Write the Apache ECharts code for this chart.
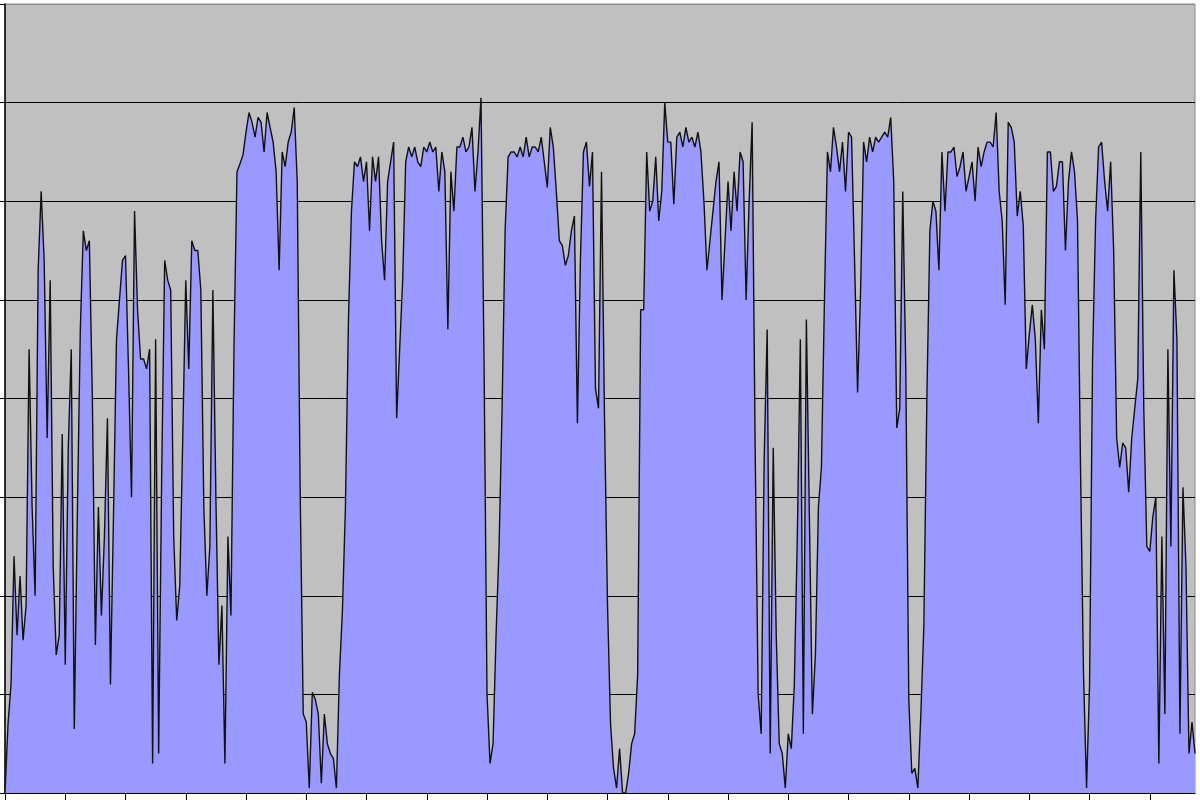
<!DOCTYPE html>
<html>
<head>
<meta charset="utf-8">
<title>Area chart</title>
<script src="https://cdn.jsdelivr.net/npm/echarts@6/dist/echarts.min.js"></script>
<style>
  html, body { margin: 0; padding: 0; background: #fff; }
  #chart { width: 1200px; height: 800px; }
</style>
</head>
<body>
<div id="chart"></div>
<script>
// samples, 20 per x tick
var s000 = [0.0, 0.7, 1.1, 2.4, 1.6, 2.2, 1.55, 1.9, 4.5, 2.9, 2.0, 5.3, 6.1, 5.4, 3.6, 5.2, 2.3, 1.4, 1.6, 3.64];
var s020 = [1.3, 3.5, 4.5, 0.65, 2.8, 4.7, 5.7, 5.5, 5.6, 4.0, 1.5, 2.9, 1.8, 2.6, 3.8, 1.1, 2.8, 4.6, 5.0, 5.4];
var s040 = [5.45, 4.3, 3.0, 5.9, 4.9, 4.4, 4.4, 4.3, 4.5, 0.3, 4.6, 0.4, 3.2, 5.4, 5.2, 5.1, 2.6, 1.75, 2.1, 3.6];
var s060 = [5.2, 4.3, 5.6, 5.5, 5.5, 5.1, 2.9, 2.0, 2.5, 5.1, 3.0, 1.3, 1.9, 0.3, 2.6, 1.8, 4.5, 6.3, 6.38, 6.47];
var s080 = [6.7, 6.9, 6.8, 6.65, 6.85, 6.8, 6.5, 6.9, 6.75, 6.6, 6.3, 5.3, 6.5, 6.35, 6.6, 6.7, 6.95, 6.2, 3.0, 0.8];
var s100 = [0.72, 0.05, 1.02, 0.95, 0.8, 0.1, 0.8, 0.5, 0.4, 0.35, 0.05, 1.2, 1.85, 2.9, 4.8, 5.9, 6.4, 6.35, 6.45, 6.2];
var s120 = [6.4, 5.7, 6.45, 6.2, 6.45, 5.6, 5.2, 6.2, 6.4, 6.6, 3.8, 4.5, 5.2, 6.4, 6.55, 6.45, 6.55, 6.4, 6.35, 6.55];
var s140 = [6.5, 6.6, 6.5, 6.55, 6.1, 6.5, 6.3, 4.7, 6.3, 5.9, 6.55, 6.55, 6.65, 6.5, 6.55, 6.75, 6.1, 6.5, 7.05, 4.4];
var s160 = [1.0, 0.3, 0.5, 1.6, 2.5, 3.9, 5.7, 6.45, 6.5, 6.5, 6.45, 6.55, 6.45, 6.65, 6.45, 6.55, 6.55, 6.5, 6.65, 6.4];
var s180 = [6.14, 6.75, 6.55, 6.1, 5.6, 5.55, 5.35, 5.45, 5.7, 5.85, 3.75, 5.4, 6.5, 6.6, 6.15, 6.5, 4.1, 3.9, 6.3, 3.8];
var s200 = [1.9, 0.7, 0.25, 0.05, 0.45, 0.0, 0.0, 0.2, 0.5, 0.6, 1.2, 4.9, 4.9, 6.5, 5.9, 6.0, 6.45, 5.8, 6.1, 7.0];
var s220 = [6.6, 6.6, 5.97, 6.65, 6.7, 6.55, 6.75, 6.6, 6.65, 6.55, 6.7, 6.5, 6.0, 5.3, 5.6, 5.9, 6.2, 6.4, 5.0, 5.6];
var s240 = [6.2, 5.7, 6.3, 5.9, 6.5, 6.4, 5.0, 6.0, 6.8, 3.5, 1.0, 0.6, 3.4, 4.7, 0.4, 3.5, 1.6, 0.5, 0.4, 0.05];
var s260 = [0.6, 0.45, 1.1, 2.6, 4.6, 0.6, 4.8, 2.8, 0.8, 1.4, 2.9, 3.3, 5.0, 6.5, 6.3, 6.75, 6.55, 6.3, 6.6, 6.1];
var s280 = [6.7, 6.65, 5.4, 4.06, 5.1, 6.6, 6.4, 6.65, 6.5, 6.65, 6.6, 6.65, 6.7, 6.65, 6.85, 6.2, 3.7, 3.9, 6.1, 4.3];
var s300 = [0.95, 0.2, 0.25, 0.05, 0.8, 1.7, 4.0, 5.7, 6.0, 5.9, 5.3, 6.5, 5.9, 6.5, 6.5, 6.55, 6.25, 6.35, 6.5, 6.1];
var s320 = [6.25, 6.4, 6.0, 6.55, 6.35, 6.5, 6.6, 6.6, 6.55, 6.9, 6.1, 5.8, 4.95, 6.8, 6.75, 6.6, 5.85, 6.1, 5.75, 4.3];
var s340 = [4.65, 4.95, 4.6, 3.75, 4.9, 4.5, 6.5, 6.5, 6.1, 6.15, 6.4, 6.4, 5.5, 6.2, 6.5, 6.3, 5.8, 3.3, 1.2, 0.05];
var s360 = [1.1, 4.4, 5.8, 6.55, 6.6, 6.2, 5.9, 6.4, 5.5, 3.6, 3.3, 3.55, 3.5, 3.05, 3.6, 3.9, 4.2, 6.5, 3.9, 2.5];
var s380 = [2.45, 2.8, 3.0, 0.3, 2.6, 0.8, 4.5, 2.5, 5.3, 4.6, 0.6, 3.1, 2.3, 0.4, 0.72, 0.4];

var values = [].concat(s000, s020, s040, s060, s080, s100, s120, s140, s160, s180,
  s200, s220, s240, s260, s280, s300, s320, s340, s360, s380);

// sample numbers on the category axis
var categories = values.map(function(v, i) { return String(i + 1); });

var yMin = 0;
var yMax = 8;
var yStep = 1;

var chart = echarts.init(document.getElementById("chart"));

var option = {
  animation: false,
  backgroundColor: "#ffffff",
  grid: {
    left: 5,
    right: 5,
    top: 4,
    bottom: 7,
    show: true,
    backgroundColor: "#c0c0c0",
    borderColor: "#8c8c8c",
    borderWidth: 1
  },
  xAxis: {
    type: "category",
    data: categories,
    boundaryGap: false,
    axisLine: { show: true, lineStyle: { color: "#000", width: 1 } },
    axisTick: {
      show: true,
      inside: false,
      length: 7,
      interval: function(index) { return index % 20 === 0; },
      lineStyle: { color: "#000", width: 1 }
    },
    axisLabel: { show: false },
    splitLine: { show: false }
  },
  yAxis: {
    type: "value",
    min: yMin,
    max: yMax,
    interval: yStep,
    axisLine: { show: true, lineStyle: { color: "#000", width: 1.5 } },
    axisTick: { show: true, inside: false, length: 5, lineStyle: { color: "#000" } },
    axisLabel: { show: false },
    splitLine: {
      show: true,
      lineStyle: {
        color: ["#000", "#000", "#000", "#000", "#000", "#000", "#000", "#000", "#8c8c8c"],
        width: 1
      }
    }
  },
  series: [
    {
      type: "line",
      data: values,
      showSymbol: false,
      symbol: "none",
      sampling: null,
      lineStyle: { color: "#111", width: 1.4 },
      areaStyle: { color: "#9999ff", opacity: 1 },
      z: 1
    }
  ]
};

chart.setOption(option);
</script>
</body>
</html>
